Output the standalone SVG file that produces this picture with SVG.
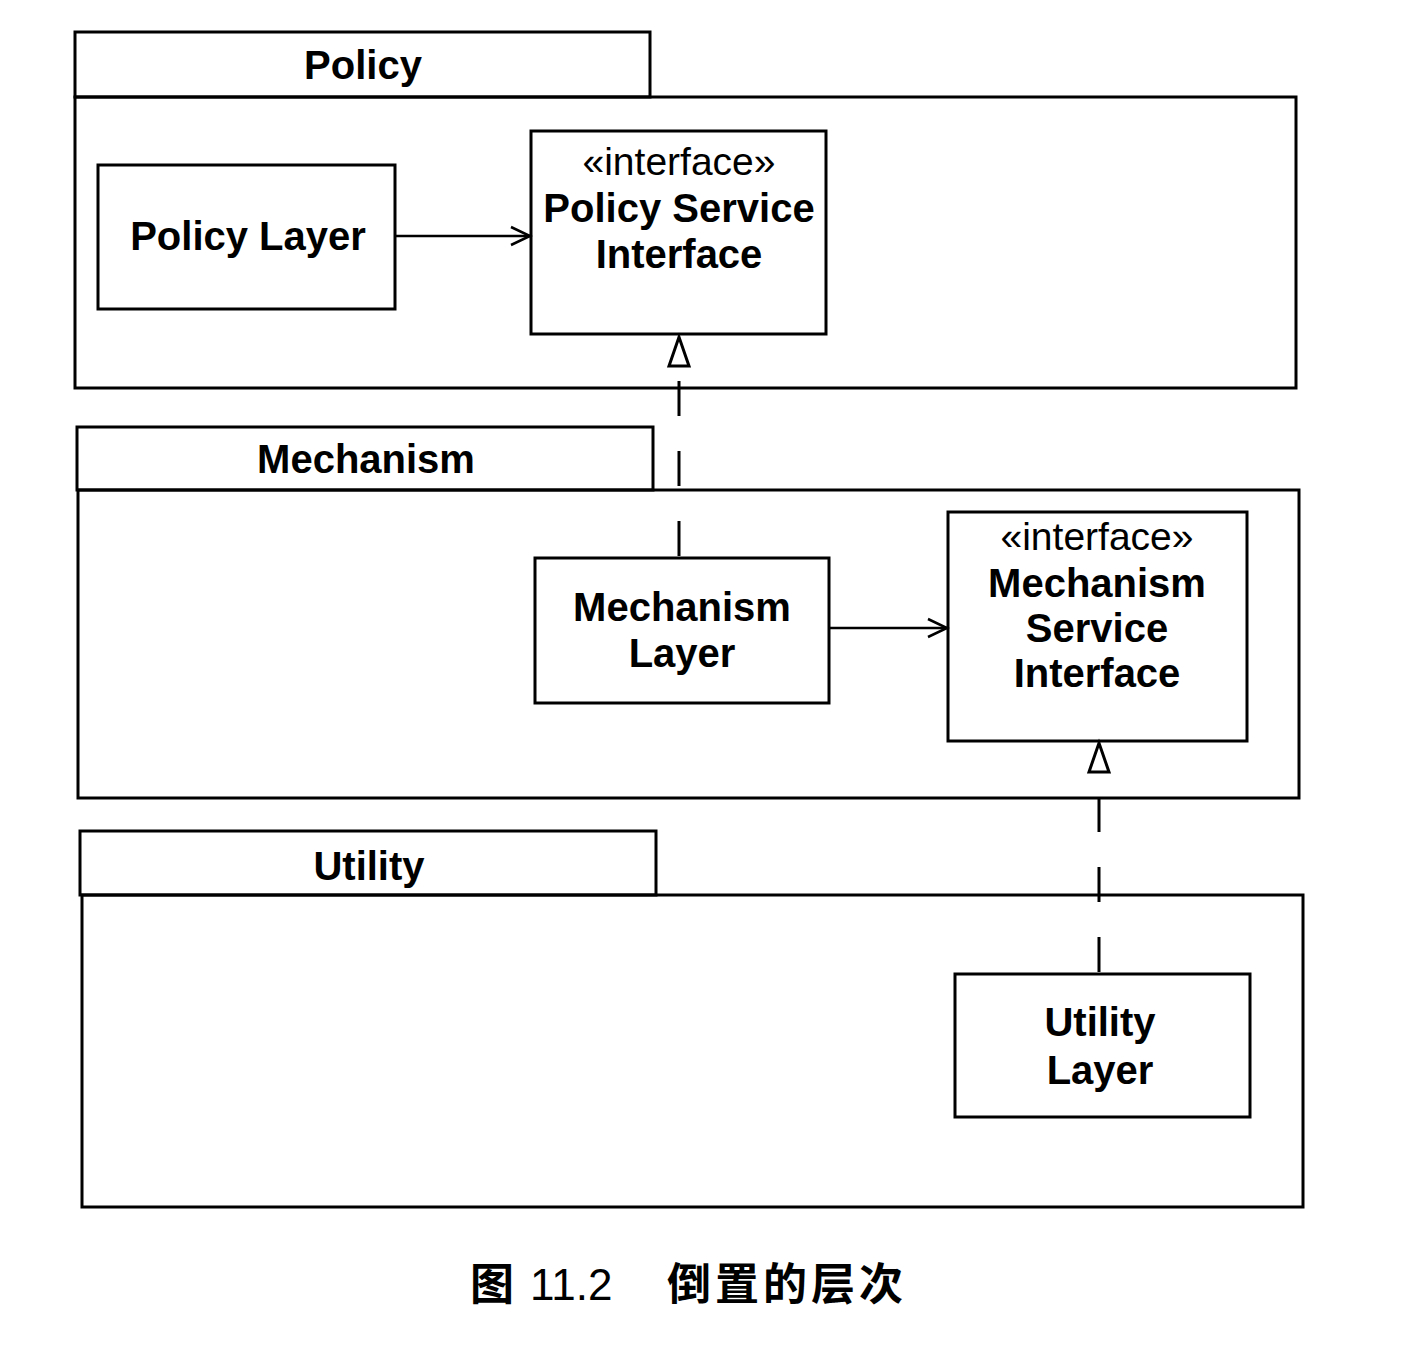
<svg xmlns="http://www.w3.org/2000/svg" width="1402" height="1352" viewBox="0 0 1402 1352">
<style>
  .box { fill: #fff; stroke: #000; stroke-width: 3; }
  .pkg { fill: none; stroke: #000; stroke-width: 3; }
  .b { font-family: "Liberation Sans", Arial, sans-serif; font-weight: bold; font-size: 40px; fill: #000; text-anchor: middle; }
  .st { font-family: "Liberation Sans", Arial, sans-serif; font-size: 39px; fill: #000; text-anchor: middle; }
  .dep { stroke: #000; stroke-width: 2.5; fill: none; }
  .real { stroke: #000; stroke-width: 3; fill: none; stroke-dasharray: 35 35; }
  .cap { font-family: "Liberation Sans", "Noto Sans CJK SC", sans-serif; font-size: 44px; fill: #000; }
  .cjk { font-family: "Noto Sans CJK SC", sans-serif; font-weight: bold; }
</style>
<defs>
  <marker id="open" markerUnits="userSpaceOnUse" viewBox="-22 -12 24 24" markerWidth="24" markerHeight="24" refX="0" refY="0" orient="auto" overflow="visible">
    <path d="M-19,-9 L0,0 L-19,9" fill="none" stroke="#000" stroke-width="2.5"/>
  </marker>
  <marker id="tri" markerUnits="userSpaceOnUse" viewBox="-2 -13 34 26" markerWidth="34" markerHeight="26" refX="0" refY="0" orient="auto" overflow="visible">
    <path d="M0,-10 L29,0 L0,10 Z" fill="#fff" stroke="#000" stroke-width="3" stroke-linejoin="miter"/>
  </marker>
</defs>
<rect width="1402" height="1352" fill="#fff"/>

<g id="pkg-policy">
  <rect class="pkg" x="75" y="32" width="575" height="65"/>
  <rect class="pkg" x="75" y="97" width="1221" height="291"/>
  <text class="b" x="363" y="79">Policy</text>
</g>
<g id="pkg-mechanism">
  <rect class="pkg" x="77" y="427" width="576" height="63"/>
  <rect class="pkg" x="78" y="490" width="1221" height="308"/>
  <text class="b" x="366" y="473">Mechanism</text>
</g>
<g id="pkg-utility">
  <rect class="pkg" x="80" y="831" width="576" height="64"/>
  <rect class="pkg" x="82" y="895" width="1221" height="312"/>
  <text class="b" x="369" y="880">Utility</text>
</g>

<g id="policy-layer">
  <rect class="box" x="98" y="165" width="297" height="144"/>
  <text class="b" x="248" y="250">Policy Layer</text>
</g>
<g id="policy-service-interface">
  <rect class="box" x="531" y="131" width="295" height="203"/>
  <text class="st" x="679" y="175">«interface»</text>
  <text class="b" x="679" y="222">Policy Service</text>
  <text class="b" x="679" y="268">Interface</text>
</g>
<g id="mechanism-layer">
  <rect class="box" x="535" y="558" width="294" height="145"/>
  <text class="b" x="682" y="621">Mechanism</text>
  <text class="b" x="682" y="667">Layer</text>
</g>
<g id="mechanism-service-interface">
  <rect class="box" x="948" y="512" width="299" height="229"/>
  <text class="st" x="1097" y="550">«interface»</text>
  <text class="b" x="1097" y="597">Mechanism</text>
  <text class="b" x="1097" y="642">Service</text>
  <text class="b" x="1097" y="687">Interface</text>
</g>
<g id="utility-layer">
  <rect class="box" x="955" y="974" width="295" height="143"/>
  <text class="b" x="1100" y="1036">Utility</text>
  <text class="b" x="1100" y="1084">Layer</text>
</g>

<g id="connectors">
  <line class="dep" x1="395" y1="236" x2="530" y2="236" marker-end="url(#open)"/>
  <line class="dep" x1="829" y1="628" x2="947" y2="628" marker-end="url(#open)"/>
  <line class="real" x1="679" y1="556" x2="679" y2="366" marker-end="url(#tri)"/>
  <line class="real" x1="1099" y1="972" x2="1099" y2="772" marker-end="url(#tri)"/>
</g>

<g id="caption">
  <text class="cap cjk" x="470" y="1300">图</text>
  <text class="cap" x="530" y="1300">11.2</text>
  <text class="cap cjk" x="667" y="1300" letter-spacing="4">倒置的层次</text>
</g>
</svg>
